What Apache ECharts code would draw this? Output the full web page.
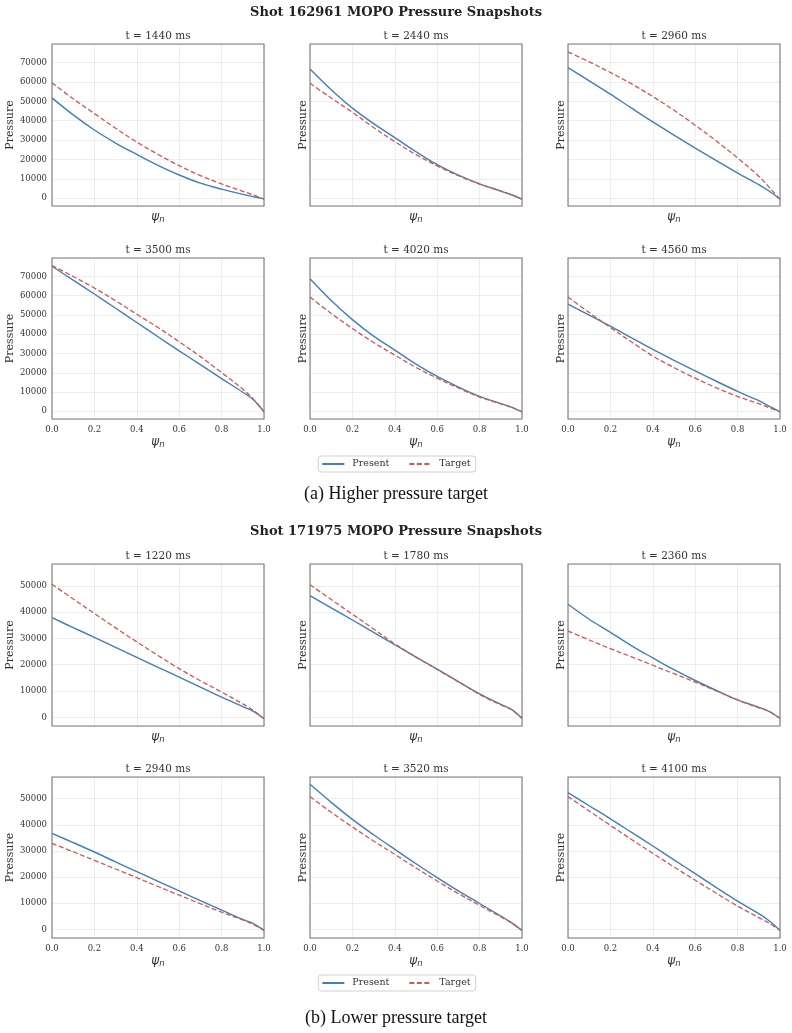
<!DOCTYPE html>
<html>
<head>
<meta charset="utf-8">
<script src="https://cdn.jsdelivr.net/npm/echarts@6/dist/echarts.min.js"></script>
<style>
  html, body { margin: 0; padding: 0; background: #fff; }
  #chart { width: 792px; height: 1033px; }
</style>
</head>
<body>
<div id="chart"></div>
<script>
// normalized flux coordinate shared by every snapshot
const psi = [0, 0.1, 0.2, 0.3, 0.4, 0.5, 0.6, 0.7, 0.8, 0.9, 0.95, 1.0];

// (a) shot 162961, higher pressure target
const timesA = [1440, 2440, 2960, 3500, 4020, 4560];
const presentA1440 = [51800, 43000, 35200, 28500, 22600, 17000, 12000, 7800, 4700, 2000, 800, -300];
const targetA1440 = [59600, 51300, 43700, 36100, 29000, 22600, 16800, 11700, 7400, 3600, 1700, -500];
const presentA2440 = [66700, 56000, 46500, 38500, 31300, 24000, 17300, 11900, 7400, 3700, 1800, -500];
const targetA2440 = [59300, 51700, 44400, 36500, 29200, 22500, 16700, 11600, 7300, 3700, 1800, -500];
const presentA2960 = [67400, 60600, 53700, 46500, 39400, 32600, 25900, 19400, 13000, 7000, 3600, -500];
const targetA2960 = [75500, 70400, 64900, 59000, 52500, 45400, 37700, 29500, 20800, 11400, 5500, -500];
const presentA3500 = [75300, 68100, 60900, 53500, 46100, 38700, 31400, 24200, 17000, 9900, 6000, -300];
const targetA3500 = [75700, 70000, 64000, 57400, 50400, 43500, 36100, 28400, 20100, 11500, 6300, -300];
const presentA4020 = [68800, 57500, 47600, 39000, 31800, 24500, 18100, 12600, 7700, 4000, 2200, -300];
const targetA4020 = [59300, 50800, 43000, 35700, 29200, 22800, 17200, 12100, 7400, 3900, 2000, -300];
const presentA4560 = [55600, 50000, 44200, 38100, 32200, 26500, 21000, 15600, 10300, 5500, 2600, -300];
const targetA4560 = [59300, 51300, 43500, 36000, 28700, 22700, 17200, 12200, 7700, 4000, 1800, -300];

// (b) shot 171975, lower pressure target
const timesB = [1220, 1780, 2360, 2940, 3520, 4100];
const presentB1220 = [37900, 34100, 30400, 26600, 22800, 19000, 15300, 11500, 7700, 4100, 2300, -500];
const targetB1220 = [50600, 45000, 39500, 34000, 28700, 23500, 18500, 13900, 9600, 5100, 2600, -500];
const presentB1780 = [46300, 41600, 37000, 32300, 27600, 22900, 18300, 13600, 8900, 4900, 3000, -400];
const targetB1780 = [50400, 44800, 39200, 33600, 27900, 22900, 18200, 13500, 8700, 4700, 2900, -400];
const presentB2360 = [43000, 37300, 32300, 27200, 22600, 18100, 14000, 10200, 6600, 3800, 2200, -400];
const targetB2360 = [32800, 29400, 26100, 23000, 19800, 16600, 13400, 10000, 6600, 3600, 2200, -400];
const presentB2940 = [36700, 33200, 29600, 25800, 22100, 18400, 14700, 11000, 7400, 3800, 2200, -400];
const targetB2940 = [32900, 29700, 26400, 23100, 19800, 16400, 13100, 9800, 6600, 3600, 1900, -400];
const presentB3520 = [55500, 48600, 42100, 36200, 30600, 25100, 19800, 14700, 9900, 5100, 2600, -400];
const targetB3520 = [50800, 44800, 39200, 33800, 28700, 23500, 18500, 13700, 9200, 4800, 2500, -400];
const presentB4100 = [52300, 47300, 42300, 37100, 31900, 26600, 21300, 16000, 10800, 6000, 3200, -400];
const targetB4100 = [50800, 45300, 39800, 34400, 29100, 23900, 18800, 13800, 8900, 4500, 2300, -400];

const yRangeA = [-4000, 79600];
const yRangeB = [-3300, 58300];

const figures = [
  { title: 'Shot 162961 MOPO Pressure Snapshots', caption: '(a) Higher pressure target', times: timesA, yRange: yRangeA,
    present: [presentA1440, presentA2440, presentA2960, presentA3500, presentA4020, presentA4560],
    target: [targetA1440, targetA2440, targetA2960, targetA3500, targetA4020, targetA4560] },
  { title: 'Shot 171975 MOPO Pressure Snapshots', caption: '(b) Lower pressure target', times: timesB, yRange: yRangeB,
    present: [presentB1220, presentB1780, presentB2360, presentB2940, presentB3520, presentB4100],
    target: [targetB1220, targetB1780, targetB2360, targetB2940, targetB3520, targetB4100] }
];

// layout (px)
const colLeft = [52, 310, 568];
const plotW = 212;
const figLayout = [
  { titleY: 13, rowTop: [44, 258], rowH: [162, 161], legendTop: 456, captionY: 494 },
  { titleY: 532, rowTop: [564, 777], rowH: [162, 161], legendTop: 975, captionY: 1018 }
];

const SERIF = 'DejaVu Serif';
const BLUE = '#3f7fbf';
const RED = '#d9534f';
const INK = '#333';

const grid = [], xAxis = [], yAxis = [], series = [], graphic = [], legend = [];

figures.forEach((fig, f) => {
  const L = figLayout[f];
  graphic.push({ type: 'text', x: 396, y: L.titleY, style: { text: fig.title, fill: '#222',
    font: 'bold 13px "' + SERIF + '"', textAlign: 'center', textVerticalAlign: 'middle' } });
  graphic.push({ type: 'text', x: 396, y: L.captionY, style: { text: fig.caption, fill: '#111',
    font: '18px "Liberation Serif"', textAlign: 'center', textVerticalAlign: 'middle' } });

  fig.times.forEach((t, k) => {
    const row = Math.floor(k / 3), col = k % 3;
    const idx = grid.length;
    const top = L.rowTop[row], h = L.rowH[row], left = colLeft[col];
    grid.push({ left: left, top: top, width: plotW, height: h, show: false });
    // plot frame drawn above the split lines
    graphic.push({ type: 'rect', z: 100, silent: true, shape: { x: left, y: top, width: plotW, height: h },
      style: { fill: 'none', stroke: '#7a7a7a', lineWidth: 1.1 } });
    graphic.push({ type: 'text', x: left + plotW / 2, y: top - 8, style: { text: 't = ' + t + ' ms', fill: INK,
      font: '10.5px "' + SERIF + '"', textAlign: 'center', textVerticalAlign: 'middle' } });

    xAxis.push({ type: 'value', gridIndex: idx, min: 0, max: 1, interval: 0.2,
      name: '{a|ψ}{b|n}', nameLocation: 'middle', nameGap: row === 1 ? 16 : 4,
      nameTextStyle: { rich: {
        a: { fontFamily: 'DejaVu Sans', fontStyle: 'italic', fontSize: 12, color: INK },
        b: { fontFamily: 'DejaVu Sans', fontStyle: 'italic', fontSize: 8.5, color: INK, verticalAlign: 'bottom', padding: [5, 0, 0, 0] }
      } },
      axisLine: { show: false }, axisTick: { show: false },
      axisLabel: { show: row === 1, margin: 6, fontFamily: SERIF, fontSize: 8.5, color: INK,
        formatter: v => v.toFixed(1) },
      splitLine: { show: true, lineStyle: { color: '#ededed', width: 1 } } });

    yAxis.push({ type: 'value', gridIndex: idx, min: fig.yRange[0], max: fig.yRange[1],
      splitNumber: f === 0 ? 8 : 6,
      name: 'Pressure', nameLocation: 'middle', nameGap: col === 0 ? 33 : 1,
      nameTextStyle: { fontFamily: SERIF, fontSize: 11, color: INK },
      axisLine: { show: false }, axisTick: { show: false },
      axisLabel: { show: col === 0, margin: 5, fontFamily: SERIF, fontSize: 8.5, color: INK,
        showMinLabel: true, showMaxLabel: true, hideOverlap: false,
        formatter: v => (Math.round(v) % 10000 === 0 ? String(Math.round(v)) : '') },
      splitLine: { show: true, lineStyle: { color: '#ededed', width: 1 } } });

    series.push({ name: 'Present', type: 'line', xAxisIndex: idx, yAxisIndex: idx,
      data: psi.map((x, j) => [x, fig.present[k][j]]), symbol: 'none', smooth: 0.35,
      lineStyle: { color: BLUE, width: 1.4 }, itemStyle: { color: BLUE } });
    series.push({ name: 'Target', type: 'line', xAxisIndex: idx, yAxisIndex: idx,
      data: psi.map((x, j) => [x, fig.target[k][j]]), symbol: 'none', smooth: 0.35,
      lineStyle: { color: RED, width: 1.3, type: [5, 2.5] }, itemStyle: { color: RED } });
  });

  legend.push({ data: ['Present', 'Target'], left: 'center', top: L.legendTop,
    itemWidth: 22, itemHeight: 10, itemGap: 19, padding: [3, 5, 3, 3],
    borderColor: '#d0d0d0', borderWidth: 1, borderRadius: 3,
    itemStyle: { opacity: 0 },
    textStyle: { fontFamily: SERIF, fontSize: 9.5, color: INK, padding: [0, 0, 0, 3] } });
});

const chart = echarts.init(document.getElementById('chart'), null, { renderer: 'canvas' });
chart.setOption({
  animation: false,
  backgroundColor: '#fff',
  grid, xAxis, yAxis, series, legend, graphic
});
</script>
</body>
</html>
